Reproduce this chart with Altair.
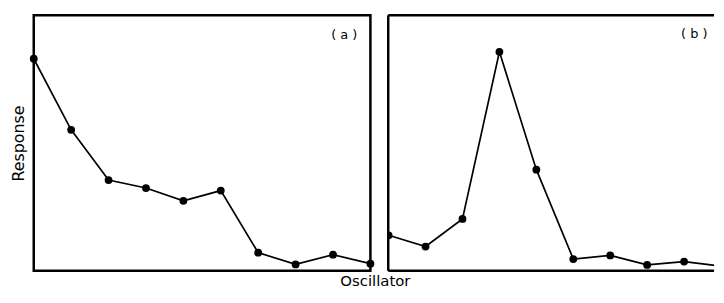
import altair as alt
import pandas as pd

# ---- data ----
oscillator = list(range(1, 11))
response_a = [83.0, 55.2, 35.5, 32.4, 27.4, 31.4, 7.1, 2.5, 6.3, 2.8]
response_b = [13.9, 9.5, 20.3, 85.7, 39.6, 4.6, 6.0, 2.3, 3.6, 1.8]
panel_labels = ["( a )", "( b )"]
x_title = "Oscillator"
y_title = "Response"

FONT = "DejaVu Sans"
H = 258
WA = 340
WB = 329

df_a = pd.DataFrame({"osc": oscillator, "resp": response_a})
df_b = pd.DataFrame({"osc": oscillator, "resp": response_b})


def panel(df, width, label, x_domain, show_y_title, clip, lab_dx, lab_y):
    x = alt.X("osc:Q", scale=alt.Scale(domain=x_domain, nice=False, zero=False), axis=None)
    if show_y_title:
        yax = alt.Axis(title=y_title, domain=False, ticks=False, labels=False, grid=False,
                       titleFont=FONT, titleFontSize=16, titleFontWeight="normal",
                       titleColor="black", titlePadding=7)
    else:
        yax = None
    y = alt.Y("resp:Q", scale=alt.Scale(domain=[0, 100], nice=False), axis=yax)
    line = alt.Chart(df).mark_line(color="black", strokeWidth=1.7, clip=clip).encode(x=x, y=y)
    pts = alt.Chart(df).mark_circle(color="black", opacity=1, size=62, clip=clip).encode(x=x, y=y)
    lab = alt.Chart(pd.DataFrame({"t": [label]})).mark_text(
        font=FONT, fontSize=13, color="black", align="center", baseline="middle"
    ).encode(text="t:N", x=alt.value(width - lab_dx), y=alt.value(lab_y))
    return line, pts, lab


la, pa, ta = panel(df_a, WA, panel_labels[0], [1, 10], True, False, 26.5, 19.5)
chart_a = alt.layer(la, pa, ta).properties(
    width=WA, height=H, view=alt.ViewBackground(stroke="black", strokeWidth=2.5)
)

lb, pb, tb = panel(df_b, WB, panel_labels[1], [0.99, 9.81], False, True, 20, 18.5)
frame = pd.DataFrame({"k": [0]})
top = alt.Chart(frame).mark_rule(color="black", strokeWidth=2.5).encode(
    x=alt.value(0), x2=alt.value(WB), y=alt.value(0))
bottom = alt.Chart(frame).mark_rule(color="black", strokeWidth=2.5).encode(
    x=alt.value(0), x2=alt.value(WB), y=alt.value(H))
left = alt.Chart(frame).mark_rule(color="black", strokeWidth=2.5).encode(
    x=alt.value(0), y=alt.value(0), y2=alt.value(H))
chart_b = alt.layer(top, bottom, left, lb, pb, tb).properties(
    width=WB, height=H, view=alt.ViewBackground(strokeWidth=0)
)

chart = alt.hconcat(chart_a, chart_b, spacing=10).properties(
    title=alt.TitleParams(text=x_title, orient="bottom", anchor="middle", font=FONT,
                          fontSize=15, fontWeight="normal", color="black", offset=2, dx=13),
    padding={"left": 1, "top": 4, "right": 0, "bottom": 0},
).configure_view(strokeWidth=0)

chart.save("out.html", embed_options={"renderer": "svg", "actions": False})
